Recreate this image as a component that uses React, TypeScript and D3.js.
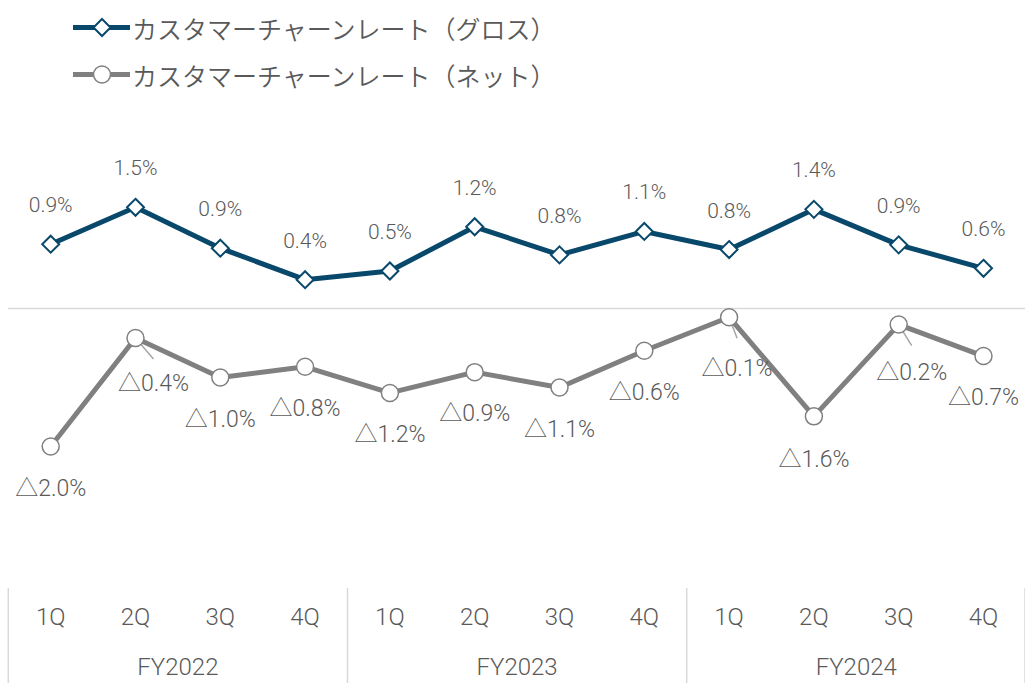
import React from "react";
import * as d3 from "d3";

const fiscalYears = ["FY2022", "FY2023", "FY2024"];
const quarters = ["1Q", "2Q", "3Q", "4Q"];
const categories = fiscalYears.flatMap((fy) => quarters.map((q) => `${fy}-${q}`));

const seriesNames = ["カスタマーチャーンレート（グロス）", "カスタマーチャーンレート（ネット）"];
const grossValues = [0.96, 1.51, 0.9, 0.43, 0.56, 1.22, 0.8, 1.15, 0.88, 1.48, 0.95, 0.6];
const netValues = [-2.06, -0.44, -1.03, -0.87, -1.26, -0.95, -1.18, -0.63, -0.13, -1.61, -0.24, -0.71];

const W = 1025;
const H = 683;
const NAVY = "#08486b";
const GRAY = "#808080";
const TEXT = "#595959";
const AXIS = "#d9d9d9";
const FONT = "Roboto, 'Noto Sans CJK JP', 'Noto Sans', sans-serif";
const JP_FONT = "'Noto Sans CJK JP', sans-serif";

// manual label nudges (dx, dy) for net labels that were moved with leader lines
const netLabelNudge: Record<number, [number, number]> = {
  1: [18, 4],
  8: [8, 10],
  9: [0, 2],
  10: [13, 6],
};

function fmt(v: number) {
  const t = Math.floor(Math.abs(v) * 10 + 1e-9) / 10;
  return (v < 0 ? "△" : "") + t.toFixed(1) + "%";
}

export default function App() {
  const x = d3.scaleBand<number>().domain(d3.range(categories.length)).range([8.3, 1025.9]).paddingInner(0).paddingOuter(0);
  const cx = (i: number) => (x(i) as number) + x.bandwidth() / 2;
  const y = d3.scaleLinear().domain([-3, 3]).range([308.5 + 201, 308.5 - 201]);

  const line = d3
    .line<number>()
    .x((_, i) => cx(i))
    .y((d) => y(d));

  const diamond = (r: number) => `M0,${-r}L${r},0L0,${r}L${-r},0Z`;

  return (
    <svg width={W} height={H} style={{ position: "absolute", left: 0, top: 0, background: "#fff" }} fontFamily={FONT} fontWeight={300}>
      {/* zero line */}
      <line x1={8} x2={W} y1={y(0)} y2={y(0)} stroke={AXIS} strokeWidth={1.5} />

      {/* category axis */}
      {d3.range(fiscalYears.length + 1).map((g) => {
        const xx = g === fiscalYears.length ? W : (x(g * 4) as number);
        return <line key={"sep" + g} x1={xx} x2={xx} y1={588} y2={H} stroke={AXIS} strokeWidth={1.5} />;
      })}
      {categories.map((c, i) => (
        <text key={"q" + c} x={cx(i)} y={617} textAnchor="middle" dominantBaseline="central" fontSize={24} fill={TEXT}>
          {quarters[i % 4]}
        </text>
      ))}
      {fiscalYears.map((fy, g) => (
        <text
          key={fy}
          x={((x(g * 4) as number) + (x(g * 4 + 3) as number) + x.bandwidth()) / 2}
          y={667}
          textAnchor="middle"
          dominantBaseline="central"
          fontSize={24}
          fill={TEXT}
        >
          {fy}
        </text>
      ))}

      {/* leader lines */}
      {Object.keys(netLabelNudge)
        .map(Number)
        .filter((i) => netLabelNudge[i][0] > 0)
        .map((i) => (
          <line
            key={"lead" + i}
            x1={cx(i)}
            y1={y(netValues[i])}
            x2={cx(i) + netLabelNudge[i][0]}
            y2={y(netValues[i]) + 21}
            stroke="#a6a6a6"
            strokeWidth={1.5}
          />
        ))}

      {/* series lines */}
      <path d={line(grossValues) as string} fill="none" stroke={NAVY} strokeWidth={5} strokeLinejoin="round" />
      <path d={line(netValues) as string} fill="none" stroke={GRAY} strokeWidth={5} strokeLinejoin="round" />

      {/* markers */}
      {grossValues.map((v, i) => (
        <path key={"gm" + i} d={diamond(8.5)} transform={`translate(${cx(i)},${y(v)})`} fill="#fff" stroke={NAVY} strokeWidth={2} />
      ))}
      {netValues.map((v, i) => (
        <circle key={"nm" + i} cx={cx(i)} cy={y(v)} r={8.5} fill="#fff" stroke={GRAY} strokeWidth={1.5} />
      ))}

      {/* data labels */}
      {grossValues.map((v, i) => (
        <text key={"gl" + i} x={cx(i)} y={y(v) - 39} textAnchor="middle" dominantBaseline="central" fontSize={21} fill={TEXT}>
          {fmt(v)}
        </text>
      ))}
      {netValues.map((v, i) => {
        const [dx, dy] = netLabelNudge[i] || [0, 0];
        return (
          <text key={"nl" + i} x={cx(i) + dx} y={y(v) + 41.5 + dy} textAnchor="middle" dominantBaseline="central" fontSize={23} fill={TEXT}>
            {fmt(v)}
          </text>
        );
      })}

      {/* legend */}
      {seriesNames.map((name, k) => {
        const ly = 27.5 + k * 47;
        const col = k === 0 ? NAVY : GRAY;
        return (
          <g key={name}>
            <line x1={73} x2={130} y1={ly} y2={ly} stroke={col} strokeWidth={5} />
            {k === 0 ? (
              <path d={diamond(8.5)} transform={`translate(102,${ly})`} fill="#fff" stroke={NAVY} strokeWidth={2} />
            ) : (
              <circle cx={102} cy={ly} r={8.5} fill="#fff" stroke={GRAY} strokeWidth={1.5} />
            )}
            <text x={132} y={ly} dominantBaseline="central" fontSize={25} fontWeight={350} fontFamily={JP_FONT} fill={TEXT}>
              {name}
            </text>
          </g>
        );
      })}
    </svg>
  );
}
